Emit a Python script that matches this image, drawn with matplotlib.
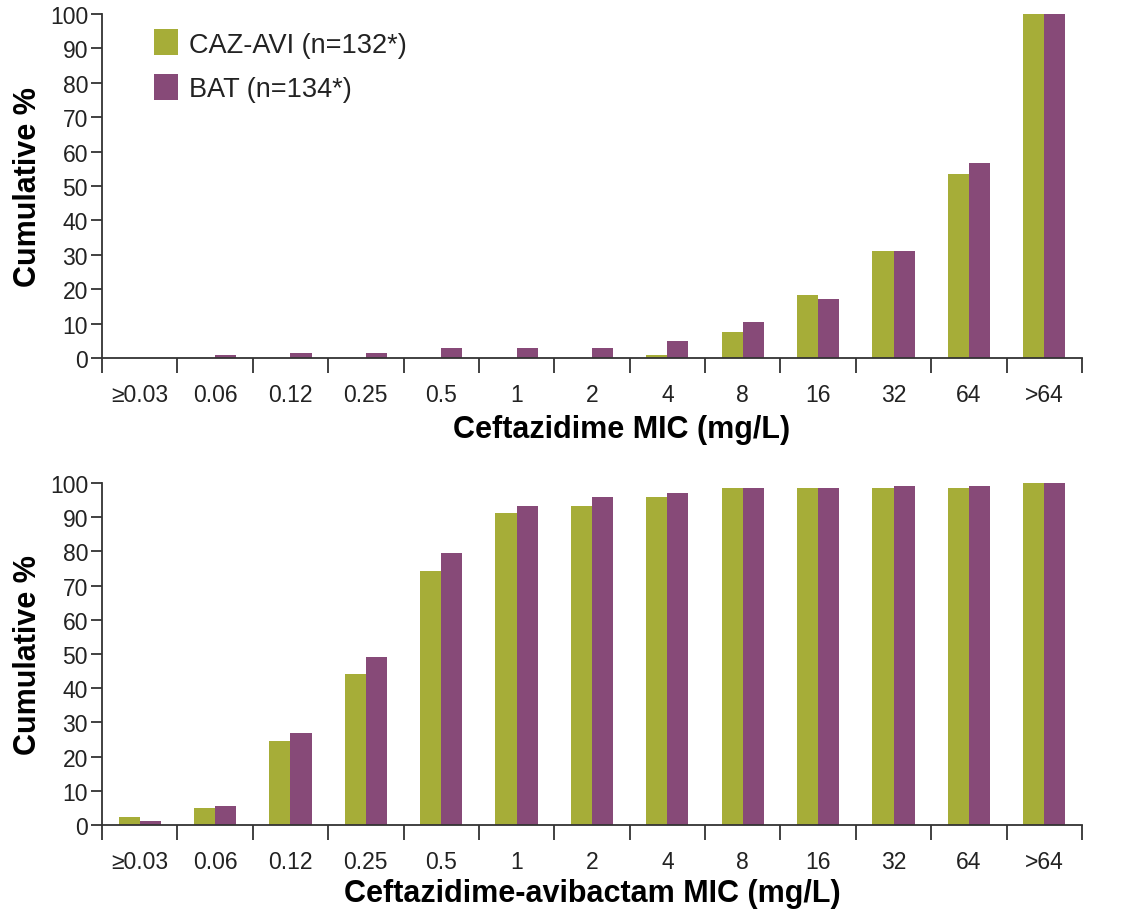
import matplotlib
matplotlib.use("Agg")
import matplotlib.pyplot as plt
import numpy as np
from matplotlib.patches import Patch

categories = ["≥0.03", "0.06", "0.12", "0.25", "0.5", "1", "2", "4", "8", "16", "32", "64", ">64"]

# Top panel: Ceftazidime MIC
caz_avi_top = [0, 0, 0, 0, 0, 0, 0, 0.8, 7.6, 18.2, 31.1, 53.6, 100]
bat_top = [0, 0.8, 1.5, 1.5, 3.0, 3.0, 3.0, 4.9, 10.4, 17.2, 31.1, 56.7, 100]

# Bottom panel: Ceftazidime-avibactam MIC
caz_avi_bot = [2.3, 4.9, 24.7, 44.2, 74.2, 91.3, 93.3, 95.9, 98.6, 98.6, 98.6, 98.6, 100]
bat_bot = [1.2, 5.5, 26.9, 49.0, 79.4, 93.3, 95.9, 97.1, 98.6, 98.6, 99.2, 99.2, 100]

legend_labels = ["CAZ-AVI (n=132*)", "BAT (n=134*)"]
xlabels = ["Ceftazidime MIC (mg/L)", "Ceftazidime-avibactam MIC (mg/L)"]

GREEN = "#A6AD38"
PURPLE = "#874A78"
AXC = "#333333"

plt.rcParams['font.family'] = ['Liberation Sans', 'DejaVu Sans']

fig = plt.figure(figsize=(11.23, 9.12), dpi=100)
ax1 = fig.add_axes([0.0908, 0.6064, 0.8727, 0.3772])
ax2 = fig.add_axes([0.0908, 0.0943, 0.8727, 0.3750])

x = np.arange(len(categories))
bw = 0.28

def draw(ax, a, b, xl, xlab_x, xlab_y):
    ax.bar(x - bw / 2, a, width=bw, color=GREEN, edgecolor='none', zorder=2)
    ax.bar(x + bw / 2, b, width=bw, color=PURPLE, edgecolor='none', zorder=2)
    ax.set_xlim(-0.5, len(categories) - 0.5)
    ax.set_ylim(0, 100)
    ax.set_yticks(range(0, 101, 10))
    ax.set_xticks(x)
    ax.set_xticklabels(categories)
    ax.set_xticks(np.arange(-0.5, len(categories), 1.0), minor=True)
    ax.tick_params(axis='x', which='major', length=0, pad=18, labelsize=16.5, labelcolor='#222222')
    ax.tick_params(axis='x', which='minor', length=11, width=1.3, color=AXC, direction='out')
    ax.tick_params(axis='y', length=8, width=1.3, color=AXC, labelsize=16.5, labelcolor='#222222', pad=2)
    for s in ['top', 'right']:
        ax.spines[s].set_visible(False)
    for s in ['left', 'bottom']:
        ax.spines[s].set_color(AXC)
        ax.spines[s].set_linewidth(1.3)
    ax.set_ylabel("Cumulative %", fontsize=22, fontweight='bold', labelpad=5)
    ax.set_xlabel(xl, fontsize=22, fontweight='bold', labelpad=5)
    ax.xaxis.set_label_coords(xlab_x, xlab_y)

draw(ax1, caz_avi_top, bat_top, xlabels[0], 0.53, -0.163)
draw(ax2, caz_avi_bot, bat_bot, xlabels[1], 0.50, -0.155)

handles = [Patch(facecolor=GREEN, edgecolor='none'), Patch(facecolor=PURPLE, edgecolor='none')]
ax1.legend(handles, legend_labels, loc='upper left', bbox_to_anchor=(0.053, 0.955),
           borderaxespad=0, borderpad=0,
           frameon=False, fontsize=19.5, handlelength=0.9, handleheight=1.1,
           handletextpad=0.4, labelspacing=0.6, labelcolor='#222222')

fig.savefig("out.png", dpi=100, facecolor='white')
